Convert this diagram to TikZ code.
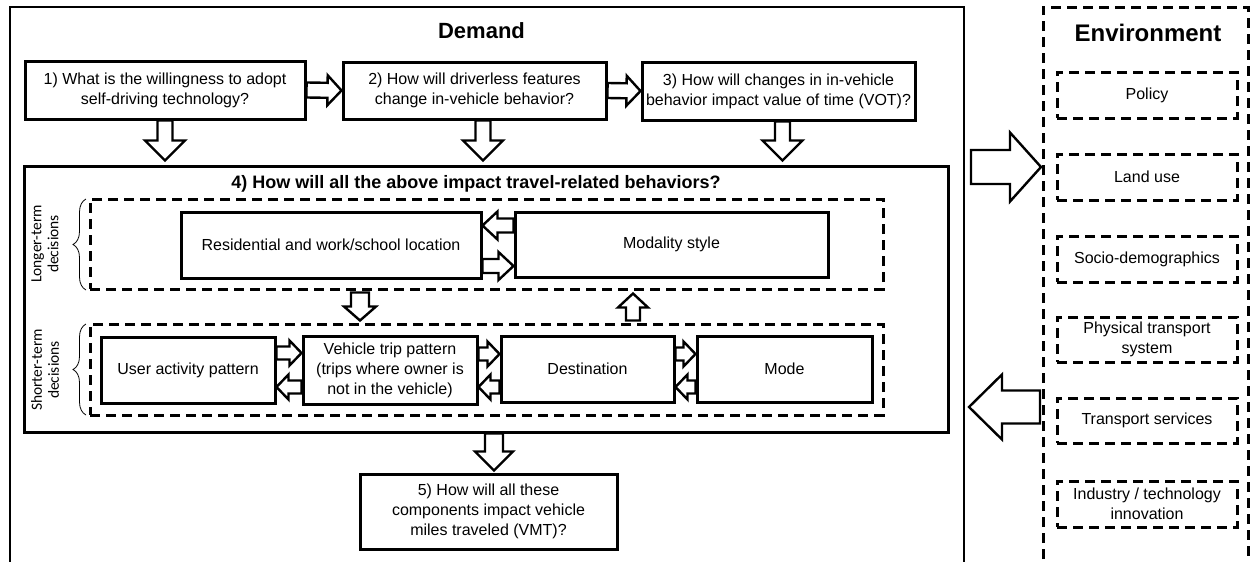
\documentclass[tikz,border=0pt]{standalone}
\usepackage{fontspec}
\setmainfont{Liberation Sans}
\newfontfamily\carlitofont{Carlito}
\usetikzlibrary{calc,decorations.pathreplacing}
\newcommand\barrow[6][]{%
  \coordinate (bH) at ($(#3)!#6!(#2)$);
  \draw[barrowstyle,#1] ($(#2)!#4!90:(#3)$) -- ($(bH)!#4!90:(#3)$) -- ($(bH)!#5!90:(#3)$) -- (#3)
    -- ($(bH)!#5!-90:(#3)$) -- ($(bH)!#4!-90:(#3)$) -- ($(#2)!#4!-90:(#3)$) -- cycle;}
\begin{document}
\begin{tikzpicture}[x=1pt,y=-1pt,
  box/.style={draw, line width=3pt, fill=white, align=center, inner sep=0pt,
    font=\fontsize{16}{20}\selectfont},
  dashbox/.style={draw, line width=3pt, dash pattern=on 10pt off 6pt, align=center, inner sep=0pt,
    font=\fontsize{16}{20}\selectfont},
  barrowstyle/.style={draw, line width=2.4pt, fill=white, line join=miter},
  outerline/.style={line width=2.6pt},
  bracestyle/.style={decorate, decoration={brace, amplitude=13pt}, line width=0.8pt},
  sidelabel/.style={rotate=90, align=center, font=\carlitofont\fontsize{15.5}{17}\selectfont},
  title/.style={font=\bfseries\fontsize{22}{26}\selectfont}
]
\useasboundingbox (0,0) rectangle (1253,562);

% outer frames
\draw[outerline] (10,575) -- (10,7) -- (964,7) -- (964,575);
\draw[line width=3pt, dash pattern=on 10pt off 6pt] (1043,575) -- (1043,7) -- (1248,7) -- (1248,575);
\node[title] (dem) at (481.5,31) {Demand};
\node[font=\bfseries\fontsize{24}{28}\selectfont] (env) at (1148,33) {Environment};

% top questions
\node[box, minimum width=280pt, minimum height=58pt] (b1) at (165,90) {1) What is the willingness to adopt\\self-driving technology?};
\node[box, minimum width=263pt, minimum height=57pt] (b2) at (474.5,90.5) {2) How will driverless features\\change in-vehicle behavior?};
\node[box, minimum width=273pt, minimum height=58pt] (b3) at (778.5,91) {3) How will changes in in-vehicle\\behavior impact value of time (VOT)?};

% box 4
\node[draw, line width=3pt, minimum width=924pt, minimum height=266pt, inner sep=0pt] (b4) at (486,299) {};
\node[font=\bfseries\fontsize{18}{22}\selectfont] (t4) at (476,184) {4) How will all the above impact travel-related behaviors?};

\node[dashbox, minimum width=793pt, minimum height=90pt] (lt) at (486.5,244) {};
\node[dashbox, minimum width=793pt, minimum height=91pt] (st) at (486.5,369.5) {};

\node[box, minimum width=300pt, minimum height=66pt] (res) at (331,245) {Residential and work/school location};
\node[box, minimum width=313pt, minimum height=65pt] (mod) at (671.5,244.5) {Modality style};

\node[box, minimum width=174pt, minimum height=66pt] (usr) at (188,370) {User activity pattern};
\node[box, minimum width=174pt, minimum height=68pt] (veh) at (390,370) {Vehicle trip pattern\\(trips where owner is\\not in the vehicle)};
\node[box, minimum width=173pt, minimum height=66pt] (dst) at (587.5,369) {Destination};
\node[box, minimum width=175pt, minimum height=66pt] (mde) at (784.5,369) {Mode};

\node[box, minimum width=257pt, minimum height=75pt] (b5) at (488.5,511.5) {5) How will all these\\components impact vehicle\\miles traveled (VMT)?};

% side labels and braces
\draw[bracestyle] (86,290) -- (86,199);
\draw[bracestyle] (86,415) -- (86,324);
\node[sidelabel] (ltl) at (45,244) {Longer-term\\decisions};
\node[sidelabel] (stl) at (45,370) {Shorter-term\\decisions};

% environment boxes
\node[dashbox, minimum width=180pt, minimum height=46pt] (pol) at (1147,95) {Policy};
\node[dashbox, minimum width=180pt, minimum height=46pt] (lnd) at (1147,177) {Land use};
\node[dashbox, minimum width=180pt, minimum height=46pt] (soc) at (1147,259) {Socio-demographics};
\node[dashbox, minimum width=180pt, minimum height=45pt] (phy) at (1147,339.5) {Physical transport\\system};
\node[dashbox, minimum width=180pt, minimum height=45pt] (trs) at (1147,420.5) {Transport services};
\node[dashbox, minimum width=180pt, minimum height=46pt] (ind) at (1147,504) {Industry / technology\\innovation};

% arrows between top questions
\barrow{b1.east}{b2.west}{7.5pt}{15pt}{14pt}
\barrow{b2.east}{b3.west}{7.5pt}{15pt}{14pt}

% down arrows into box 4
\coordinate (d1s) at (b1.south);
\coordinate (d1e) at ($(b1.south |- b4.north)+(0,-4)$);
\coordinate (d2s) at ($(b2.south)+(8.5,0)$);
\coordinate (d2e) at ($(d2s |- b4.north)+(0,-4)$);
\coordinate (d3s) at ($(b3.south)+(4,0)$);
\coordinate (d3e) at ($(d3s |- b4.north)+(0,-4)$);
\barrow{d1s}{d1e}{7.5pt}{20pt}{20pt}
\barrow{d2s}{d2e}{7.5pt}{20pt}{20pt}
\barrow{d3s}{d3e}{7.5pt}{20pt}{20pt}

% long-term arrows
\coordinate (rm1) at ($(mod.west)+(0,-19)$);
\coordinate (rm2) at ($(res.east |- rm1)$);
\barrow{rm1}{rm2}{7pt}{14pt}{15pt}
\coordinate (rm3) at ($(res.east)+(0,21)$);
\coordinate (rm4) at ($(mod.west |- rm3)$);
\barrow{rm3}{rm4}{7pt}{14pt}{15pt}

% between dashed boxes
\coordinate (ls1) at ($(lt.south)+(-126.5,2)$);
\coordinate (ls2) at ($(ls1 |- st.north)+(0,-2)$);
\barrow{ls1}{ls2}{9pt}{16pt}{14pt}
\coordinate (sl1) at ($(st.north)+(146.5,-2)$);
\coordinate (sl2) at ($(sl1 |- lt.south)+(0,3)$);
\barrow{sl1}{sl2}{7pt}{15pt}{14pt}

% short-term arrows
\coordinate (uv1) at ($(usr.east)+(0,-17)$);
\coordinate (uv2) at ($(veh.west |- uv1)$);
\barrow{uv1}{uv2}{6.5pt}{12.5pt}{12pt}
\coordinate (vu1) at ($(veh.west)+(0,17)$);
\coordinate (vu2) at ($(usr.east |- vu1)$);
\barrow{vu1}{vu2}{6.5pt}{12.5pt}{12pt}

\coordinate (vd1) at ($(veh.east)+(0,-16)$);
\coordinate (vd2) at ($(dst.west |- vd1)$);
\barrow{vd1}{vd2}{6.5pt}{12.5pt}{12pt}
\coordinate (dv1) at ($(dst.west)+(0,18)$);
\coordinate (dv2) at ($(veh.east |- dv1)$);
\barrow{dv1}{dv2}{6.5pt}{12.5pt}{12pt}

\coordinate (dm1) at ($(dst.east)+(0,-15)$);
\coordinate (dm2) at ($(mde.west |- dm1)$);
\barrow{dm1}{dm2}{6.5pt}{12.5pt}{12pt}
\coordinate (md1) at ($(mde.west)+(0,18)$);
\coordinate (md2) at ($(dst.east |- md1)$);
\barrow{md1}{md2}{6.5pt}{12.5pt}{12pt}

% box 4 to box 5
\coordinate (f1) at ($(b4.south)+(8,0)$);
\coordinate (f2) at ($(f1 |- b5.north)+(0,-2)$);
\barrow{f1}{f2}{9pt}{19pt}{19pt}

% demand <-> environment
\coordinate (de1) at (971,167);
\coordinate (de2) at (1041,167);
\barrow{de1}{de2}{17pt}{34.5pt}{31pt}
\coordinate (ed1) at (1040,407);
\coordinate (ed2) at (969,407);
\barrow{ed1}{ed2}{16.5pt}{32.5pt}{33pt}
\end{tikzpicture}
\end{document}
